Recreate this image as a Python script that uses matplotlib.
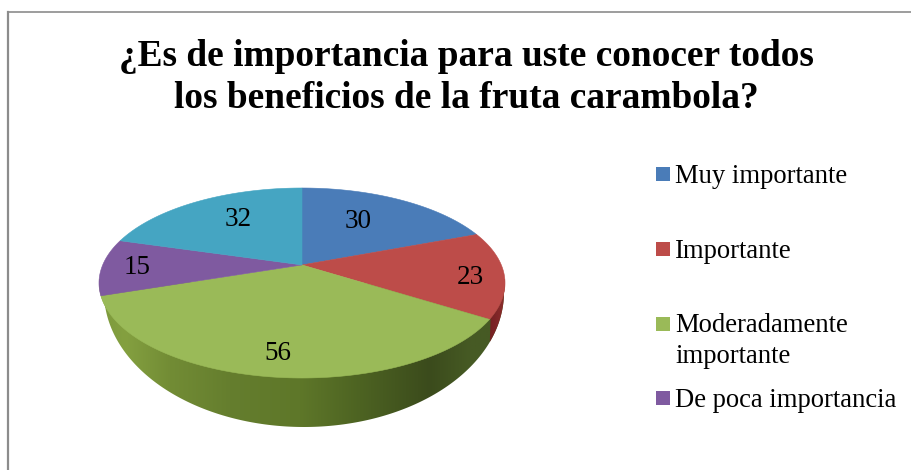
import numpy as np
from matplotlib import pyplot as plt
from matplotlib.patches import Polygon, Rectangle

plt.rcParams['font.family'] = ['Liberation Serif', 'DejaVu Serif']

title_lines = ["¿Es de importancia para uste conocer todos", "los beneficios de la fruta carambola?"]
values = [30, 23, 56, 15, 32]
colors = ['#4a7cb8', '#bd4c49', '#9aba58', '#7f5aa0', '#45a5c2']
legend_labels = ['Muy importante', 'Importante', 'Moderadamente\nimportante', 'De poca importancia']
legend_colors = colors[:4]

# ellipse of the top face and of the bottom edge, in pixels
cx, cy, rx, ry = 302, 283, 203, 95
bot_cx, bot_cy, bot_rx, bot_ry = 304, 292, 200, 135
tilt = 0.19  # moves the centre of the pie up, fake perspective


def rim(theta):
    # theta clockwise from 12 o'clock
    d = 1 + tilt * np.cos(theta)
    u = np.sin(theta) * np.sqrt(1 - tilt ** 2) / d
    v = (np.cos(theta) + tilt) / d
    return cx + rx * u, cy - ry * v


def wall_image(ax, poly, stops, cols):
    xs = np.linspace(90, 515, 426)
    cols = np.array([plt.matplotlib.colors.to_rgb(c) for c in cols])
    img = np.stack([np.interp(xs, stops, cols[:, i]) for i in range(3)], axis=-1)[None, :, :]
    im = ax.imshow(img, extent=(90, 515, 440, 270), aspect='auto', zorder=2)
    patch = Polygon(poly, closed=True, transform=ax.transData, fc='none', ec='none')
    ax.add_patch(patch)
    im.set_clip_path(patch)


fig = plt.figure(figsize=(9.12, 4.70), dpi=100)
ax = fig.add_axes([0, 0, 1, 1])
ax.set_xlim(0, 912)
ax.set_ylim(470, 0)
ax.axis('off')

# only the top and left of the frame are in the picture
ax.plot([8, 912], [11.5, 11.5], color='#8c8c8c', lw=1.2, zorder=1)
ax.plot([8, 8], [11.5, 470], color='#8c8c8c', lw=1.6, zorder=1)

ax.text(466, 66, title_lines[0], ha='center', va='baseline', fontsize=26.9, fontweight='bold', color='black')
ax.text(466, 108.5, title_lines[1], ha='center', va='baseline', fontsize=26.9, fontweight='bold', color='black')

# side wall, left to right under the top face
edges = np.cumsum([0] + values) / sum(values) * 2 * np.pi
t = np.linspace(np.pi / 2 + 0.15, 3 * np.pi / 2 - 0.15, 200)
top_x, top_y = rim(t)
bt = np.linspace(0, np.pi, 200)
bot_x = bot_cx + bot_rx * np.cos(bt)
bot_y = bot_cy + bot_ry * np.sin(bt)

wall_pts = np.vstack([np.column_stack([top_x[::-1], top_y[::-1]]), np.column_stack([bot_x[::-1], bot_y[::-1]])])
wall_image(ax, wall_pts,
           [100, 125, 170, 230, 300, 360, 430, 470, 505],
           ['#7d9a3c', '#84a040', '#728c35', '#657e2e', '#5e7729', '#4d6322', '#3b4b1c', '#465a24', '#465a24'])

# red part of the wall right of the green/red edge
sx, sy = rim(edges[2])
mask = bot_x >= sx
red_pts = np.vstack([np.column_stack([bot_x[mask], bot_y[mask]]),
                     np.column_stack([top_x[top_x >= sx][::-1], top_y[top_x >= sx][::-1]])])
wall_image(ax, red_pts, [485, 495, 505], ['#6e1c1e', '#7c2426', '#8c2d2c'])

# top face
for start, end, col in zip(edges[:-1], edges[1:], colors):
    th = np.linspace(start, end, 120)
    x, y = rim(th)
    pts = np.column_stack([np.r_[cx, x], np.r_[cy - ry * tilt, y]])
    ax.add_patch(Polygon(pts, closed=True, fc=col, ec=col, lw=0.4, zorder=3))

# data labels, offsets picked by eye
label_pos = [(358, 221), (470, 277), (278, 354), (137, 268), (238, 220)]
for val, (lx, ly) in zip(values, label_pos):
    ax.text(lx, ly, str(val), ha='center', va='center', fontsize=19.5, color='black', zorder=4)

legend_y = [174, 248.5, 323.5, 398]
for lab, col, ly in zip(legend_labels, legend_colors, legend_y):
    ax.add_patch(Rectangle((656, ly - 7), 14, 14, fc=col, ec='none'))
    ax.text(675, ly - 10, lab, ha='left', va='top', fontsize=19.2, linespacing=1.27, color='black')

fig.savefig('out.png', dpi=100)
